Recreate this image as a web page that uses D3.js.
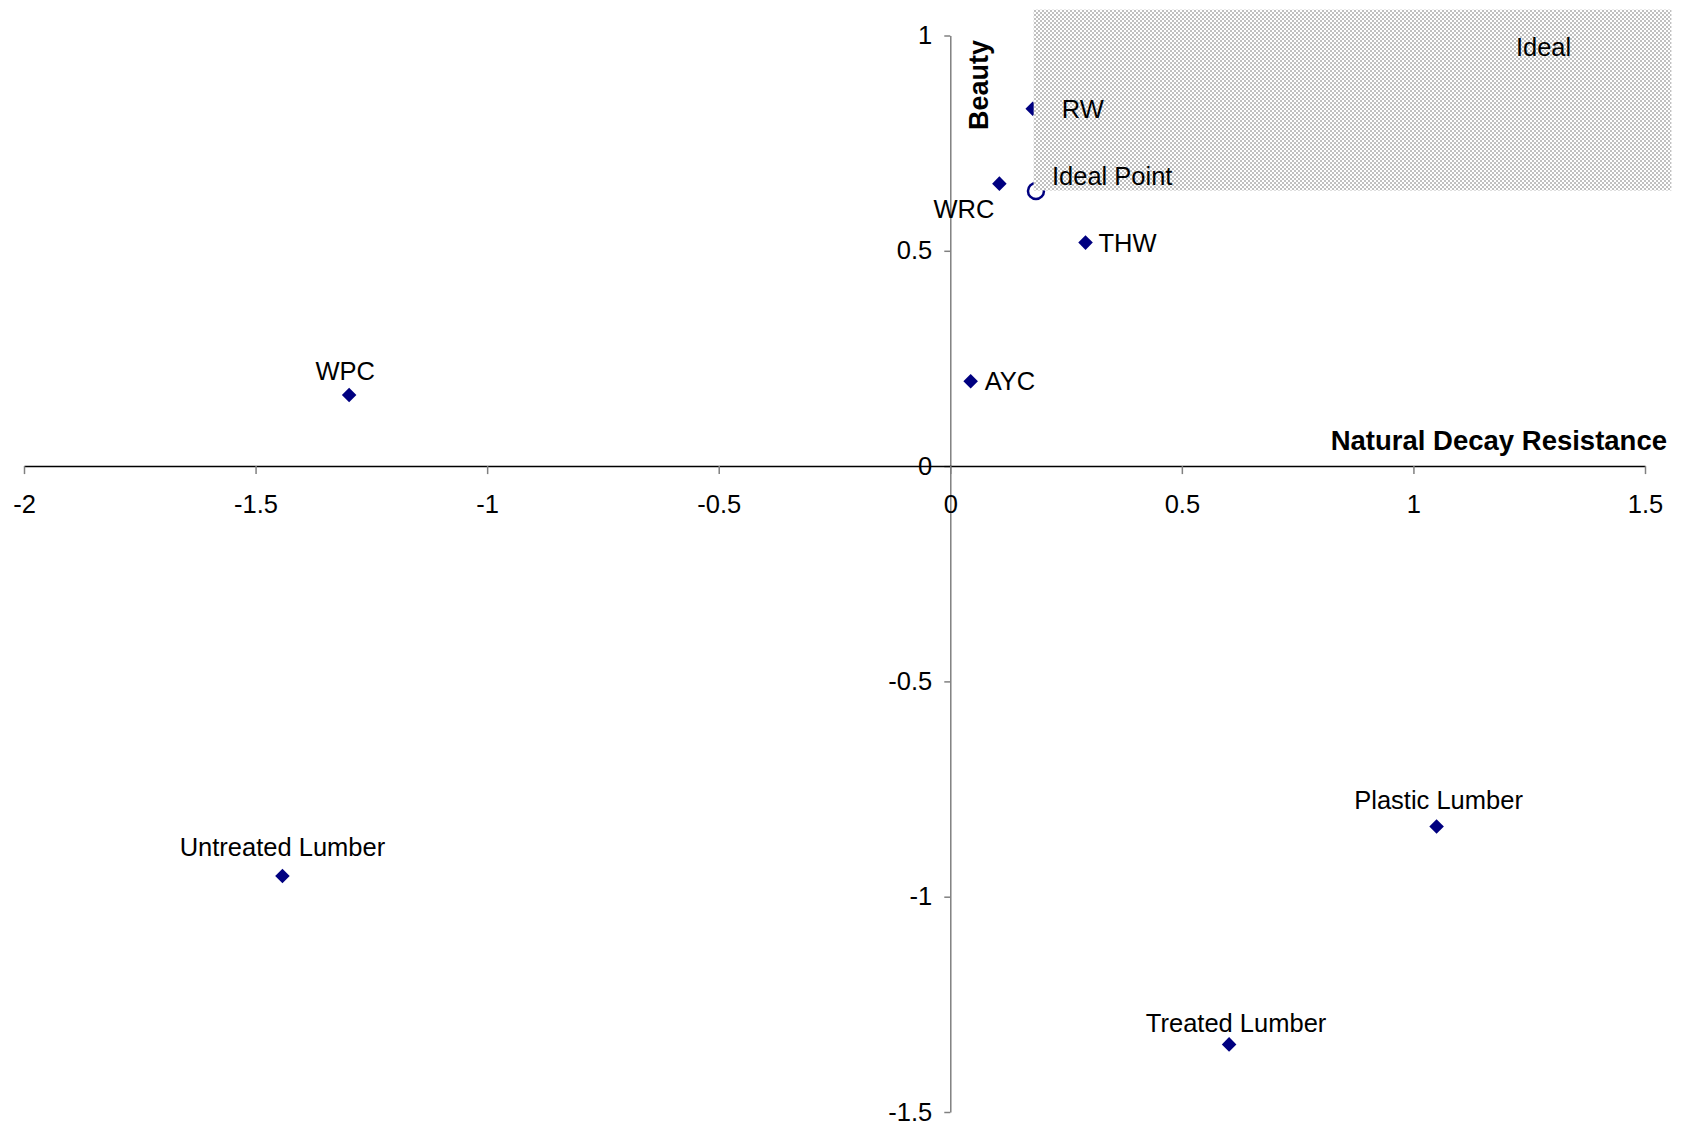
<!DOCTYPE html>
<html>
<head>
<meta charset="utf-8">
<script src="https://cdn.jsdelivr.net/npm/d3@7"></script>
<style>
  html, body { margin: 0; padding: 0; background: #fff; }
  svg { display: block; }
  text { font-family: "Liberation Sans", Arial, sans-serif; }
</style>
</head>
<body>
<svg id="chart" width="1683" height="1129"></svg>
<script>
// ---- Data ----
const names = ["RW", "WRC", "THW", "AYC", "WPC", "Untreated Lumber", "Plastic Lumber", "Treated Lumber"];
const decayResistance = [0.178, 0.106, 0.292, 0.044, -1.298, -1.442, 1.050, 0.602];
const beauty = [0.830, 0.656, 0.519, 0.197, 0.165, -0.952, -0.837, -1.343];

const idealPointName = ["Ideal Point"];
const idealPointX = [0.185];
const idealPointY = [0.639];

const idealRegionX = [0.18, 1.557];
const idealRegionY = [0.64, 1.06];
const idealRegionLabel = ["Ideal"];
const idealRegionLabelPos = [1.281, 0.973];

const xTicks = [-2, -1.5, -1, -0.5, 0, 0.5, 1, 1.5];
const yTicks = [-1.5, -1, -0.5, 0, 0.5, 1];
const xTitle = "Natural Decay Resistance";
const yTitle = "Beauty";

// ---- Label placement (style, not data) ----
const labelPlacement = {
  "RW": { dx: 29, dy: 0, anchor: "start" },
  "WRC": { dx: -5, dy: 25, anchor: "end" },
  "THW": { dx: 13, dy: 0, anchor: "start" },
  "AYC": { dx: 14, dy: 0, anchor: "start" },
  "WPC": { dx: -4, dy: -24, anchor: "middle" },
  "Untreated Lumber": { dx: 0, dy: -29, anchor: "middle" },
  "Plastic Lumber": { dx: 2, dy: -26, anchor: "middle" },
  "Treated Lumber": { dx: 7, dy: -21, anchor: "middle" },
  "Ideal Point": { dx: 16, dy: -15, anchor: "start" }
};

// ---- Chart ----
const svg = d3.select("#chart");
const x = d3.scaleLinear().domain([-2, 1.5]).range([24, 1645]);
const y = d3.scaleLinear().domain([-1.5, 1]).range([1112, 35.5]);
const fmt = d => String(d);

const defs = svg.append("defs");
const pat = defs.append("pattern")
  .attr("id", "checker")
  .attr("patternUnits", "userSpaceOnUse")
  .attr("width", 4).attr("height", 4);
pat.append("rect").attr("width", 4).attr("height", 4).attr("fill", "#ffffff");
pat.append("rect").attr("x", 0).attr("y", 0).attr("width", 2).attr("height", 2).attr("fill", "#c0c0c0");
pat.append("rect").attr("x", 2).attr("y", 2).attr("width", 2).attr("height", 2).attr("fill", "#c0c0c0");

// Y axis (at x = 0)
const yAxis = d3.axisLeft(y).tickValues(yTicks).tickSize(6).tickSizeOuter(0).tickPadding(12)
  .tickFormat(fmt);
const gy = svg.append("g").attr("transform", `translate(${x(0)},0)`).call(yAxis);
gy.select(".domain").attr("stroke", "#808080").attr("stroke-width", 1.5);
gy.selectAll(".tick line").attr("stroke", "#808080").attr("stroke-width", 1.5);
gy.selectAll(".tick text").attr("font-size", 25.5).attr("fill", "#000")
  .attr("font-family", "'Liberation Sans', Arial, sans-serif");

// X axis (at y = 0)
const xAxis = d3.axisBottom(x).tickValues(xTicks).tickSize(8).tickSizeOuter(0).tickPadding(21)
  .tickFormat(fmt);
const gx = svg.append("g").attr("transform", `translate(0,${y(0)})`).call(xAxis);
gx.select(".domain").attr("stroke", "#000").attr("stroke-width", 1.5);
gx.selectAll(".tick line").attr("stroke", "#808080").attr("stroke-width", 1.5);
gx.selectAll(".tick text").attr("font-size", 25.5).attr("fill", "#000")
  .attr("font-family", "'Liberation Sans', Arial, sans-serif");

// Axis titles
svg.append("text")
  .attr("x", 1667).attr("y", 440).attr("dy", "0.35em")
  .attr("text-anchor", "end").attr("font-size", 27.5).attr("font-weight", "bold")
  .text(xTitle);
svg.append("text")
  .attr("transform", `translate(979,${y(0.885)}) rotate(-90)`)
  .attr("dy", "0.35em")
  .attr("text-anchor", "middle").attr("font-size", 27).attr("font-weight", "bold")
  .text(yTitle);

// Data points (diamonds)
const pts = names.map((n, i) => ({ name: n, x: decayResistance[i], y: beauty[i] }));
const diamond = d3.symbol().type(d3.symbolDiamond2).size(135);
svg.append("g").selectAll("path").data(pts).join("path")
  .attr("d", diamond)
  .attr("transform", d => `translate(${x(d.x)},${y(d.y)})`)
  .attr("fill", "#000080");

// Ideal point (open circle)
const ideal = idealPointName.map((n, i) => ({ name: n, x: idealPointX[i], y: idealPointY[i] }));
svg.append("g").selectAll("circle").data(ideal).join("circle")
  .attr("cx", d => x(d.x)).attr("cy", d => y(d.y)).attr("r", 8)
  .attr("fill", "none").attr("stroke", "#000080").attr("stroke-width", 2.5);

// Ideal region (drawn over points, like the original)
svg.append("rect")
  .attr("x", x(idealRegionX[0])).attr("y", y(idealRegionY[1]))
  .attr("width", x(idealRegionX[1]) - x(idealRegionX[0]))
  .attr("height", y(idealRegionY[0]) - y(idealRegionY[1]))
  .attr("fill", "url(#checker)");

svg.append("text")
  .attr("x", x(idealRegionLabelPos[0])).attr("y", y(idealRegionLabelPos[1])).attr("dy", "0.35em")
  .attr("text-anchor", "middle").attr("font-size", 25.5).attr("fill", "#000")
  .text(idealRegionLabel[0]);

// Labels
const allLabels = pts.concat(ideal);
svg.append("g").selectAll("text").data(allLabels).join("text")
  .attr("x", d => x(d.x) + labelPlacement[d.name].dx)
  .attr("y", d => y(d.y) + labelPlacement[d.name].dy)
  .attr("dy", "0.35em")
  .attr("text-anchor", d => labelPlacement[d.name].anchor)
  .attr("font-size", 25.5).attr("fill", "#000")
  .text(d => d.name);
</script>
</body>
</html>
